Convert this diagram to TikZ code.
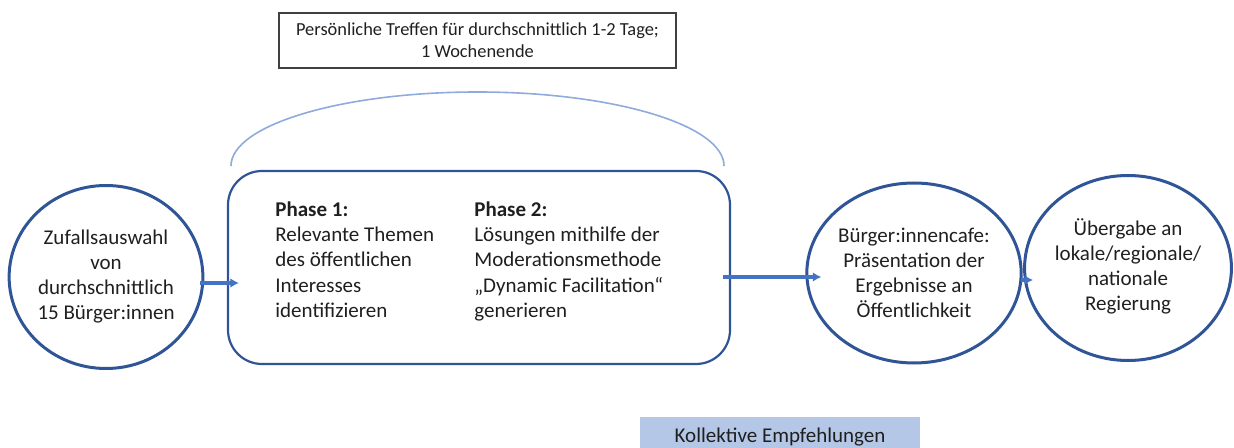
\documentclass[tikz,border=0pt]{standalone}
\usepackage{fontspec}
\setmainfont{Carlito}
\usepackage{xcolor}
\usetikzlibrary{arrows.meta,positioning,shapes.geometric}
\definecolor{kblau}{HTML}{2F5597}
\definecolor{kpfeil}{HTML}{4472C4}
\definecolor{kbogen}{HTML}{8FAADC}
\definecolor{kgrau}{HTML}{404040}
\definecolor{kfeld}{HTML}{B4C7E7}
\definecolor{ktext}{HTML}{1F1F1F}

\begin{document}
\begin{tikzpicture}[
  x=0.5pt,
  y=-0.5pt,
  kreis/.style={ellipse, draw=kblau, line width=1.5pt, inner sep=0pt, align=center,
    font=\fontsize{10.5}{12.6}\selectfont, text=ktext},
  sitzung/.style={draw=kblau, line width=1.1pt, rounded corners=17pt, minimum width=251pt,
    minimum height=96.5pt},
  phase/.style={anchor=north west, inner sep=0pt, align=left,
    font=\fontsize{10.5}{12.7}\selectfont, text=ktext},
  hinweis/.style={draw=kgrau, line width=0.6pt, minimum width=198.5pt, minimum height=27.5pt,
    align=center, inner sep=0pt, font=\fontsize{9.2}{11}\selectfont, text=ktext},
  ergebnis/.style={fill=kfeld, minimum width=140pt, minimum height=20pt, inner sep=0pt,
    font=\fontsize{10.5}{12.6}\selectfont, text=ktext},
  arrow/.style={-{Latex[length=1.5mm,width=1.7mm]}, line width=1.8pt, draw=kpfeil}
]
\useasboundingbox (0,0) rectangle (1234,448);

\node[hinweis] (treffen) at (477.5,40.5) {Persönliche Treffen für durchschnittlich 1-2 Tage;\\1 Wochenende};

\node[kreis, minimum width=94pt, minimum height=91.5pt] (auswahl) at (106,277)
  {\raisebox{3pt}{\begin{tabular}{@{}c@{}}Zufallsauswahl\\von\\durchschnittlich\\15 Bürger:innen\end{tabular}}};
\node[sitzung] (box) at (479,267.5) {};
\node[phase] (phase1) at (275,201) {\textbf{Phase 1:}\\Relevante Themen\\des öffentlichen\\Interesses\\identifizieren};
\node[phase] (phase2) at (474,201) {\textbf{Phase 2:}\\Lösungen mithilfe der\\Moderationsmethode\\„Dynamic Facilitation“\\generieren};
\node[kreis, minimum width=96pt, minimum height=90pt] (cafe) at (914,273)
  {Bürger:innencafe:\\Präsentation der\\Ergebnisse an\\Öffentlichkeit};
\node[kreis, minimum width=94.5pt, minimum height=92.5pt] (uebergabe) at (1128,268)
  {\raisebox{2pt}{\begin{tabular}{@{}c@{}}Übergabe an\\lokale/regionale/\\nationale\\Regierung\end{tabular}}};

\node[ergebnis] (empfehlung) at (780,437) {Kollektive Empfehlungen};

% Bogen ueber der Sitzung
\coordinate (bogenl) at (231,166);
\draw[kbogen, line width=0.8pt] (bogenl) arc[start angle=180, end angle=0, x radius=123.25pt, y radius=37pt];

\draw[arrow] ([xshift=-2pt,yshift=-3pt]auswahl.east) -- ([xshift=6pt,yshift=-3pt]auswahl.east -| box.west);
\draw[arrow] ([xshift=-4pt,yshift=-2pt]cafe.west -| box.east) -- ([xshift=8pt,yshift=-2pt]cafe.west);
\draw[arrow] ([xshift=-1pt,yshift=-3.5pt]cafe.east) -- ([xshift=5pt,yshift=-3.5pt]cafe.east -| uebergabe.west);
\end{tikzpicture}
\end{document}
